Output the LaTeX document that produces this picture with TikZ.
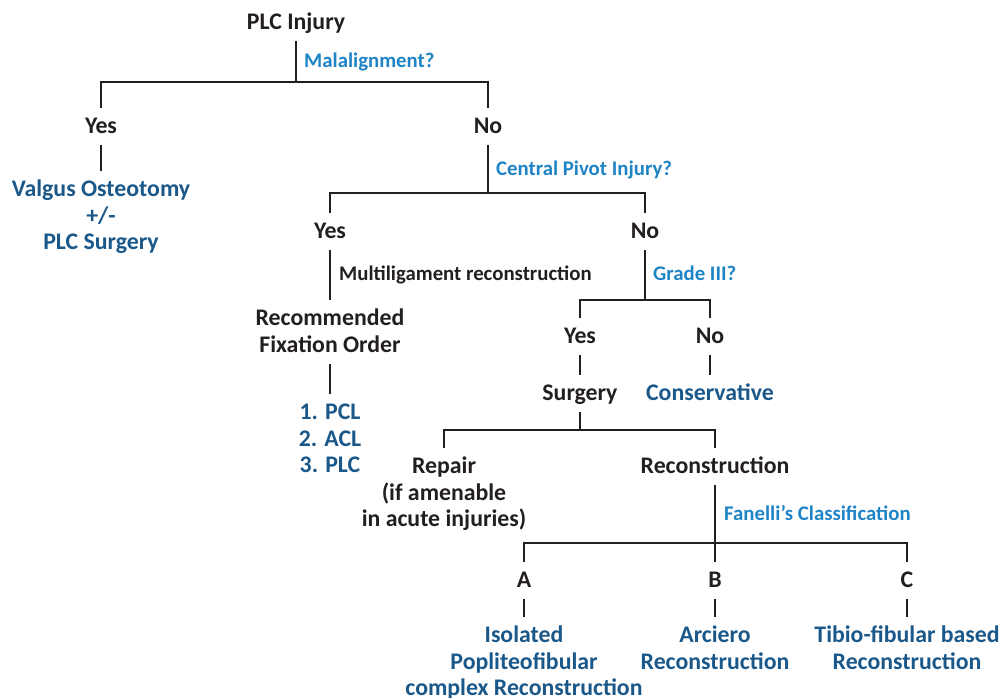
\documentclass[tikz,border=0pt]{standalone}
\usepackage{fontspec}
\setmainfont{Carlito}
\usetikzlibrary{positioning}

\definecolor{inkgray}{RGB}{35,31,32}
\definecolor{ansblue}{RGB}{27,88,138}
\definecolor{askblue}{RGB}{30,132,198}

\newcommand{\topstrut}{\rule{0pt}{25.5pt}}

\begin{document}
\begin{tikzpicture}[x=1pt, y=-1pt,
    item/.style={anchor=north, align=center, inner xsep=2pt, inner ysep=0pt, outer sep=0pt,
        font=\bfseries\fontsize{23.8}{26.5}\selectfont, text=inkgray,
        execute at begin node={\topstrut},
        execute at end node={\rule[-11.5pt]{0pt}{11.5pt}}},
    answer/.style={item, text=ansblue},
    ask/.style={anchor=base west, inner sep=0pt, font=\bfseries\fontsize{20.8}{24}\selectfont, text=askblue},
    branch/.style={draw=inkgray, line width=1.2pt}]
    \useasboundingbox (0,0) rectangle (1000,697);

    % Draw the nodes
    \node[item] (plc) at (296,4) {PLC Injury};
    \node[item] (yes1) at (101,108) {Yes};
    \node[item] (no1) at (488,108) {No};
    \node[answer] (valgus) at (101,171) {\topstrut Valgus Osteotomy\\+/-\\PLC Surgery};
    \node[item] (yes2) at (330,213) {Yes};
    \node[item] (no2) at (645,213) {No};
    \node[item] (rec) at (330,300) {\topstrut Recommended\\Fixation Order};
    \node[answer] (order) at (330,394) {\topstrut 1. PCL\\2. ACL\\3. PLC};
    \node[item] (yes3) at (580,318) {Yes};
    \node[item] (no3) at (710,318) {No};
    \node[item] (surg) at (580,375) {Surgery};
    \node[answer] (cons) at (710,375) {Conservative};
    \node[item] (repair) at (444,448) {\topstrut Repair\\(if amenable\\in acute injuries)};
    \node[item] (recon) at (715,448) {Reconstruction};
    \node[item] (typeA) at (524,562) {A};
    \node[item] (typeB) at (715,562) {B};
    \node[item] (typeC) at (907,562) {C};
    \node[answer] (iso) at (524,617) {\topstrut Isolated\\Popliteofibular\\complex Reconstruction};
    \node[answer] (arc) at (715,617) {\topstrut Arciero\\Reconstruction};
    \node[answer] (tib) at (907,617) {\topstrut Tibio-fibular based\\Reconstruction};

    % Draw the questions
    \node[ask] (q1) at (304,67) {Malalignment?};
    \node[ask] (q2) at (496,175.5) {Central Pivot Injury?};
    \node[ask, text=inkgray] (q3) at (339,280.5) {Multiligament reconstruction};
    \node[ask] (q4) at (653,280.5) {Grade III?};
    \node[ask] (q5) at (724,520.5) {Fanelli’s Classification};

    % Branch points
    \coordinate (j1) at (296,82);
    \coordinate (j2) at (488,193);
    \coordinate (j3) at (645,300);
    \coordinate (j4) at (580,430);
    \coordinate (j5) at (715,543);

    % Draw the branches
    \draw[branch] (plc.south) -- (j1);
    \draw[branch] (yes1.north) |- (j1) -| (no1.north);
    \draw[branch] (yes1.south) -- (valgus.north);
    \draw[branch] (no1.south) -- (j2);
    \draw[branch] (yes2.north) |- (j2) -| (no2.north);
    \draw[branch] (yes2.south) -- (rec.north);
    \draw[branch] (rec.south) -- (order.north);
    \draw[branch] (no2.south) -- (j3);
    \draw[branch] (yes3.north) |- (j3) -| (no3.north);
    \draw[branch] (yes3.south) -- (surg.north);
    \draw[branch] (no3.south) -- (cons.north);
    \draw[branch] (surg.south) -- (j4);
    \draw[branch] (repair.north) |- (j4) -| (recon.north);
    \draw[branch] (recon.south) -- (j5);
    \draw[branch] (typeA.north) |- (j5) -| (typeC.north);
    \draw[branch] (typeB.north) -- (j5);
    \draw[branch] (typeA.south) -- (iso.north);
    \draw[branch] (typeB.south) -- (arc.north);
    \draw[branch] (typeC.south) -- (tib.north);
\end{tikzpicture}
\end{document}
